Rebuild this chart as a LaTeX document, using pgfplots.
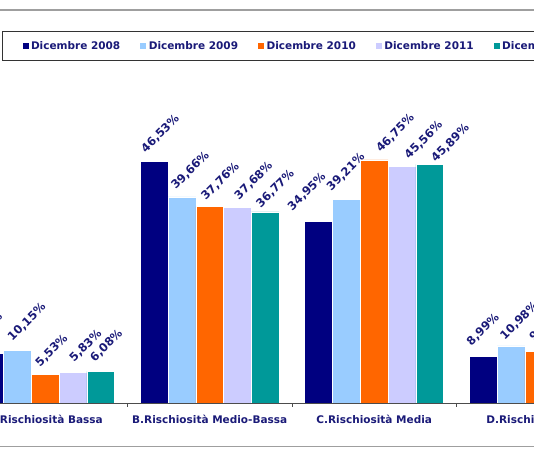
\documentclass[border=0pt]{standalone}
\usepackage{pgfplots}
\usepackage{pgfplotstable}
\pgfplotsset{compat=1.18}
\usepackage{fontspec}
\setmainfont{DejaVu Sans}

\definecolor{c08}{RGB}{0,0,128}
\definecolor{c09}{RGB}{153,204,255}
\definecolor{c10}{RGB}{255,102,0}
\definecolor{c11}{RGB}{204,204,255}
\definecolor{c12}{RGB}{0,153,153}
\definecolor{txt}{RGB}{26,26,120}

% x = category, y = share (%), dx/dy = label offset (pt)
\pgfplotstableread{
x y dx dy
0 9.53 -15 8
1 46.53 -8.4 7.7
2 34.95 -26.3 10
3 8.99 -11.8 10
}\dicO
\pgfplotstableread{
x y dx dy
0 10.15 -5.1 8.4
1 39.66 -6.2 6.7
2 39.21 -15.1 7.3
3 10.98 -6.2 5.6
}\dicN
\pgfplotstableread{
x y dx dy
0 5.53 -5.2 6.7
1 37.76 -4 5.7
2 46.75 6.5 7
3 9.96 -4.7 10
}\dicX
\pgfplotstableread{
x y dx dy
0 5.83 1 10
1 37.68 1.5 6.7
2 45.56 7 6.4
3 10.93 -5 7
}\dicXI
\pgfplotstableread{
x y dx dy
0 6.08 -6.1 9
1 36.77 -4.6 3.4
2 45.89 5.9 1.6
3 11.26 -5 7
}\dicXII

\begin{document}
\begin{tikzpicture}[x=1pt,y=1pt]
\path[use as bounding box] (0,0) rectangle (534,462);
\clip (0,0) rectangle (534,462);
% chart area frame (cropped)
\draw[gray!75, line width=1.5pt] (0,452) -- (534,452);
\draw[gray!75, line width=1.5pt] (0,15.5) -- (534,15.5);
\begin{axis}[
    at={(-119.3pt,59pt)}, anchor=south west,
    x=164.5pt, y=5.2pt,
    xmin=-1, xmax=4, ymin=0, ymax=70,
    enlargelimits=false,
    ybar=0pt, bar width=27.8pt,
    axis x line=bottom, axis y line=none,
    axis line style={-, gray!60!black, line width=0.8pt},
    xtick={0,1,2,3},
    xticklabels={A.Rischiosità Bassa, B.Rischiosità Medio-Bassa, C.Rischiosità Media, D.Rischiosità Alta},
    minor xtick={-0.5,0.5,1.5,2.5,3.5},
    major tick length=0pt, minor tick length=4pt,
    tick align=outside,
    minor tick style={gray!60!black, line width=0.8pt},
    xticklabel style={font=\bfseries\fontsize{10.5}{12}\selectfont, text=txt, inner sep=0pt, yshift=-12pt},
    visualization depends on={\thisrow{dx}\as\dx},
    visualization depends on={\thisrow{dy}\as\dy},
    nodes near coords={\pgfmathprintnumber[use comma,fixed,fixed zerofill,precision=2,assume math mode=true]{\pgfplotspointmeta}\%},
    every node near coord/.append style={font=\bfseries\fontsize{11.5}{13}\selectfont, text=txt, inner sep=0pt, anchor=base west, xshift=\dx pt, yshift=\dy pt, rotate=45},
    every axis plot/.append style={draw=white, line width=0.5pt},
    legend columns=5,
    legend image code/.code={\fill[#1, draw=none] (0pt,-3pt) rectangle (6pt,3pt);},
    legend style={at={(0.14748,1.02198)}, anchor=north west,
        draw=gray!40!black, line width=1pt,
        inner xsep=20pt, inner ysep=8pt,
        font=\bfseries\fontsize{10.5}{12}\selectfont, text=txt,
        nodes={inner xsep=0pt},
        /tikz/every odd column/.append style={column sep=2.5pt},
        /tikz/every even column/.append style={column sep=20pt}},
]
\addplot[fill=c08] table[x=x, y=y] {\dicO};
\addplot[fill=c09] table[x=x, y=y] {\dicN};
\addplot[fill=c10] table[x=x, y=y] {\dicX};
\addplot[fill=c11] table[x=x, y=y] {\dicXI};
\addplot[fill=c12] table[x=x, y=y] {\dicXII};
\legend{Dicembre 2008, Dicembre 2009, Dicembre 2010, Dicembre 2011, Dicembre 2012}
\end{axis}
\end{tikzpicture}
\end{document}
